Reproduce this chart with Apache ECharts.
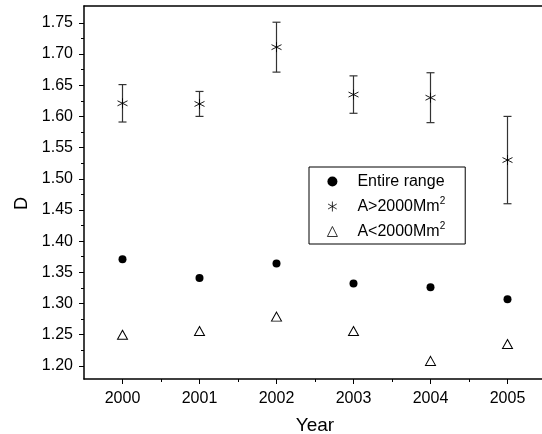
<!DOCTYPE html>
<html>
<head>
<meta charset="utf-8">
<script src="https://cdn.jsdelivr.net/npm/echarts@6/dist/echarts.min.js"></script>
<style>html,body{margin:0;padding:0;background:#fff}#c{width:542px;height:434px}</style>
</head>
<body>
<div id="c"></div>
<script>
const years = [2000, 2001, 2002, 2003, 2004, 2005];
const entireRange = [1.371, 1.341, 1.364, 1.332, 1.326, 1.307];
const largeA = [1.621, 1.620, 1.711, 1.635, 1.630, 1.530];
const largeAErr = [0.030, 0.020, 0.040, 0.030, 0.040, 0.070];
const smallA = [1.250, 1.256, 1.279, 1.256, 1.208, 1.235];
const yTicks = [1.20, 1.25, 1.30, 1.35, 1.40, 1.45, 1.50, 1.55, 1.60, 1.65, 1.70, 1.75];
const yMinorTicks = [1.225, 1.275, 1.325, 1.375, 1.425, 1.475, 1.525, 1.575, 1.625, 1.675, 1.725];
const xMinorTicks = [2000.5, 2001.5, 2002.5, 2003.5, 2004.5];
const seriesNames = ['Entire range', 'A>2000Mm2', 'A<2000Mm2'];

const starPath = 'path://M5,0L5,10M0.67,2.5L9.33,7.5M0.67,7.5L9.33,2.5';
const font = 'Liberation Sans, Arial, sans-serif';

const chart = echarts.init(document.getElementById('c'), null, {renderer: 'canvas'});
const axisLine = {show: true, lineStyle: {color: '#000', width: 1.5}};

chart.setOption({
  animation: false,
  backgroundColor: '#fff',
  grid: {left: 84, top: 6, right: -4, bottom: 55, containLabel: false, outerBoundsMode: 'none'},
  xAxis: [
    {
      type: 'value', min: 1999.5, max: 2005.5, position: 'bottom',
      name: 'Year', nameLocation: 'middle', nameGap: 37,
      nameTextStyle: {fontFamily: font, fontSize: 19, color: '#000'},
      axisLine: axisLine,
      axisTick: {show: true, inside: false, length: 5, customValues: years, lineStyle: {color: '#000', width: 1}},
      axisLabel: {customValues: years, margin: 12, fontFamily: font, fontSize: 16, color: '#000', formatter: v => String(Math.round(v))},
      splitLine: {show: false}
    },
    {
      type: 'value', min: 1999.5, max: 2005.5, position: 'bottom',
      axisLine: {show: false},
      axisTick: {show: true, inside: false, length: 3, customValues: xMinorTicks, lineStyle: {color: '#000', width: 1}},
      axisLabel: {show: false},
      splitLine: {show: false}
    },
    {
      type: 'value', min: 1999.5, max: 2005.5, position: 'top',
      axisLine: axisLine,
      axisTick: {show: false}, axisLabel: {show: false}, splitLine: {show: false}
    }
  ],
  yAxis: [
    {
      type: 'value', min: 1.179, max: 1.777, position: 'left',
      name: 'D', nameLocation: 'middle', nameGap: 53,
      nameTextStyle: {fontFamily: font, fontSize: 18, color: '#000', padding: [0, 22, 0, 0]},
      axisLine: axisLine,
      axisTick: {show: true, inside: false, length: 5, customValues: yTicks, lineStyle: {color: '#000', width: 1}},
      axisLabel: {customValues: yTicks, margin: 11, fontFamily: font, fontSize: 16, color: '#000', formatter: v => v.toFixed(2)},
      splitLine: {show: false}
    },
    {
      type: 'value', min: 1.179, max: 1.777, position: 'left',
      axisLine: {show: false},
      axisTick: {show: true, inside: false, length: 3, customValues: yMinorTicks, lineStyle: {color: '#000', width: 1}},
      axisLabel: {show: false},
      splitLine: {show: false}
    }
  ],
  legend: {
    orient: 'vertical', left: 309, top: 167,
    backgroundColor: '#fff', borderColor: '#000', borderWidth: 1,
    padding: [5, 20, 3, 18],
    itemWidth: 10, itemHeight: 10, itemGap: 5.5,
    symbolKeepAspect: true,
    data: [
      {name: seriesNames[0], icon: 'circle', itemStyle: {color: '#000', borderWidth: 0}},
      {name: seriesNames[1], icon: starPath, itemStyle: {color: '#000', borderColor: '#000', borderWidth: 0.8}},
      {name: seriesNames[2], icon: 'triangle', itemStyle: {color: '#fff', borderColor: '#000', borderWidth: 0.8}}
    ],
    formatter: n => n.replace(/Mm2$/, 'Mm{sup|2}'),
    textStyle: {
      fontFamily: font, fontSize: 16, color: '#000', lineHeight: 19, padding: [0, 0, 0, 15],
      rich: {sup: {fontFamily: font, fontSize: 10, color: '#000', padding: [0, 0, 10, 0]}}
    }
  },
  series: [
    {
      type: 'custom', name: 'errbars', xAxisIndex: 0, yAxisIndex: 0, silent: true, z: 1,
      data: years.map((y, i) => [y, largeA[i] - largeAErr[i], largeA[i] + largeAErr[i]]),
      renderItem: function (params, api) {
        const lo = api.coord([api.value(0), api.value(1)]);
        const hi = api.coord([api.value(0), api.value(2)]);
        const hw = 4;
        const st = {stroke: '#333', lineWidth: 1.2};
        return {type: 'group', children: [
          {type: 'line', shape: {x1: lo[0], y1: lo[1], x2: hi[0], y2: hi[1]}, style: st},
          {type: 'line', shape: {x1: lo[0] - hw, y1: lo[1], x2: lo[0] + hw, y2: lo[1]}, style: st},
          {type: 'line', shape: {x1: hi[0] - hw, y1: hi[1], x2: hi[0] + hw, y2: hi[1]}, style: st}
        ]};
      }
    },
    {
      type: 'scatter', name: seriesNames[0], symbol: 'circle', symbolSize: 8, z: 3,
      itemStyle: {color: '#000', borderColor: '#000', borderWidth: 0, opacity: 1},
      data: years.map((y, i) => [y, entireRange[i]])
    },
    {
      type: 'scatter', name: seriesNames[1], symbol: starPath, symbolSize: 10, z: 3,
      itemStyle: {color: '#000', borderColor: '#000', borderWidth: 0.9, opacity: 1},
      data: years.map((y, i) => [y, largeA[i]])
    },
    {
      type: 'scatter', name: seriesNames[2], symbol: 'triangle', symbolSize: [10, 9], z: 3,
      itemStyle: {color: '#fff', borderColor: '#000', borderWidth: 1, opacity: 1},
      data: years.map((y, i) => [y, smallA[i]])
    }
  ]
});
</script>
</body>
</html>
